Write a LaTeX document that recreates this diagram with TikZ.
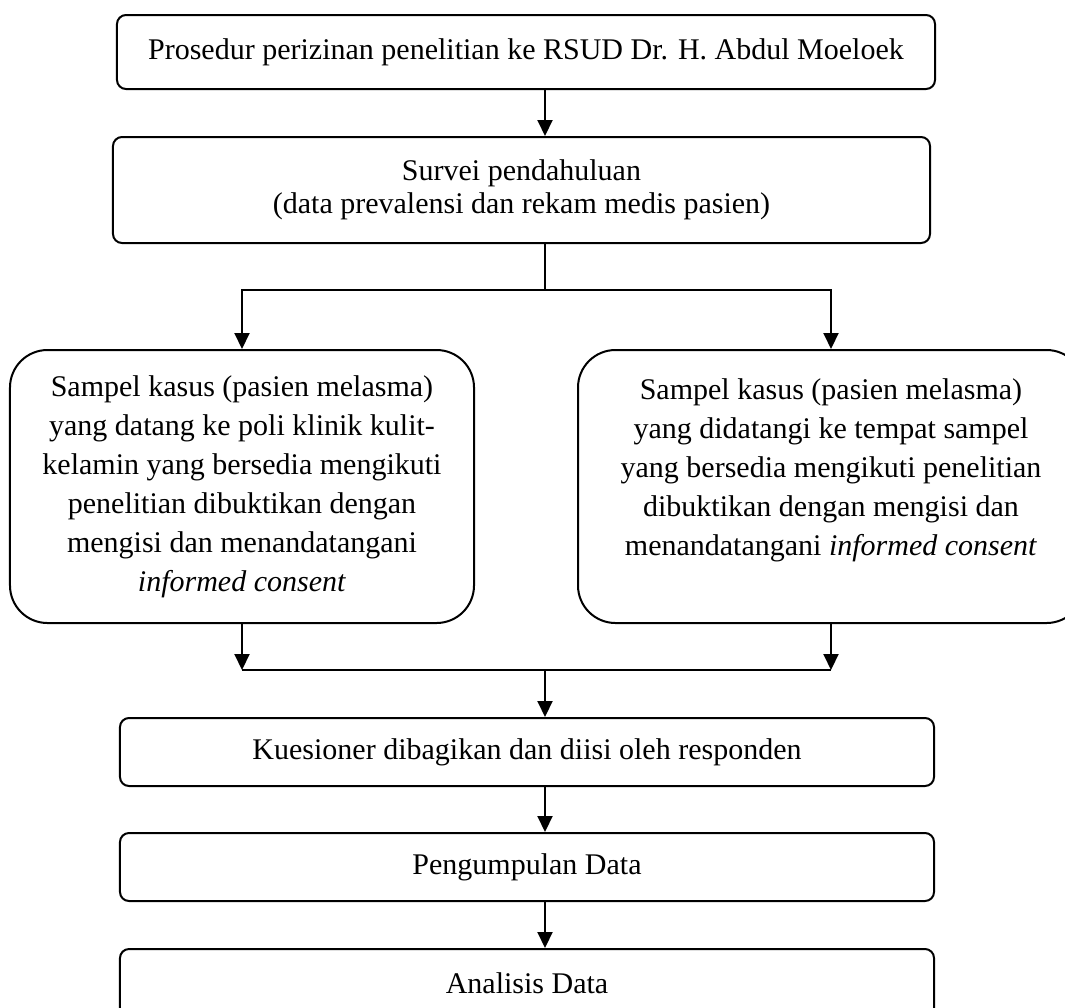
\documentclass[tikz,border=0pt]{standalone}
\usepackage{fontspec}
\setmainfont{Liberation Serif}
\usetikzlibrary{arrows.meta}

\tikzset{
  stepbox/.style={draw, rounded corners=3.6pt, line width=0.8pt, inner sep=0pt, align=center,
    font=\fontsize{12}{13.2}\selectfont},
  samplebox/.style={draw, rounded corners=15pt, line width=0.8pt, inner sep=0pt, align=center,
    font=\fontsize{12}{15.6}\selectfont, minimum height=109.2pt},
  flow/.style={line width=0.8pt, -{Triangle[length=6.4pt,width=6pt]}},
  link/.style={line width=0.8pt}
}

\begin{document}
\begin{tikzpicture}[x=0.4pt, y=-0.4pt]
        \useasboundingbox (0,0) rectangle (1065,1007);
        % Main column axis
        \coordinate (axis) at (545,0);
        % Boxes
        \node[stepbox, minimum width=327.2pt, minimum height=29.6pt] (prosedur) at (526,52)
          {Prosedur perizinan penelitian ke RSUD Dr. H. Abdul Moeloek};
        \node[stepbox, minimum width=326.8pt, minimum height=42.4pt] (survei) at (521.5,190)
          {Survei pendahuluan\\(data prevalensi dan rekam medis pasien)};
        \node[samplebox, minimum width=185.6pt] (poli) at (242,486.5)
          {Sampel kasus (pasien melasma)\\yang datang ke poli klinik kulit-\\kelamin yang bersedia mengikuti\\penelitian dibuktikan dengan\\mengisi dan menandatangani\\\textit{informed consent}};
        \node[samplebox, minimum width=202.4pt] (tempat) at (831,486.5)
          {Sampel kasus (pasien melasma)\\yang didatangi ke tempat sampel\\yang bersedia mengikuti penelitian\\dibuktikan dengan mengisi dan\\menandatangani \textit{informed consent}\\~};
        \node[stepbox, minimum width=325.6pt, minimum height=27.2pt] (kuesioner) at (527,752)
          {Kuesioner dibagikan dan diisi oleh responden};
        \node[stepbox, minimum width=325.6pt, minimum height=27.2pt] (pengumpulan) at (527,867)
          {Pengumpulan Data};
        \node[stepbox, minimum width=325.6pt, minimum height=27.2pt] (analisis) at (527,983)
          {Analisis Data};
        % Split and merge points
        \coordinate (split) at (545,290);
        \coordinate (merge) at (545,670);
        % Connectors
        \draw[flow] (prosedur.south -| axis) -- (survei.north -| axis);
        \draw[link] (survei.south -| axis) -- (split);
        \draw[flow] (split) -| (poli.north);
        \draw[flow] (split) -| (tempat.north);
        \draw[flow] (poli.south) -- (poli.south |- merge);
        \draw[flow] (tempat.south) -- (tempat.south |- merge);
        \draw[link] (poli.south |- merge) -- (tempat.south |- merge);
        \draw[flow] (merge) -- (kuesioner.north -| axis);
        \draw[flow] (kuesioner.south -| axis) -- (pengumpulan.north -| axis);
        \draw[flow] (pengumpulan.south -| axis) -- (analisis.north -| axis);
\end{tikzpicture}
\end{document}
